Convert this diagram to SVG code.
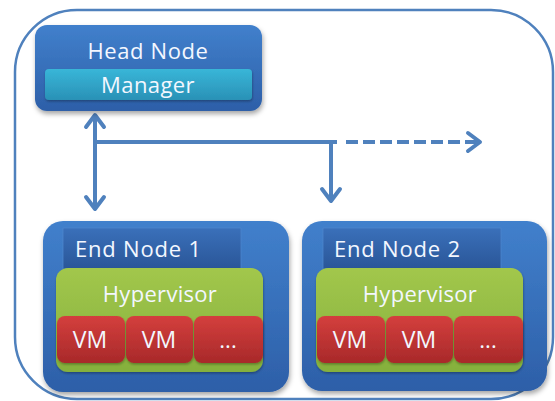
<svg xmlns="http://www.w3.org/2000/svg" width="555" height="401" viewBox="0 0 555 401">
<defs>
<linearGradient id="gBlue" x1="0" y1="0" x2="0" y2="1"><stop offset="0" stop-color="#4180cc"/><stop offset="1" stop-color="#2d5fa8"/></linearGradient>
<linearGradient id="gLabel" x1="0" y1="0" x2="0" y2="1"><stop offset="0" stop-color="#3a70ba"/><stop offset="1" stop-color="#2a5698"/></linearGradient>
<linearGradient id="gCyan" x1="0" y1="0" x2="0" y2="1"><stop offset="0" stop-color="#38b6d8"/><stop offset="1" stop-color="#2a91b6"/></linearGradient>
<linearGradient id="gGreen" x1="0" y1="0" x2="0" y2="1"><stop offset="0" stop-color="#a2c74c"/><stop offset="1" stop-color="#85b03c"/></linearGradient>
<linearGradient id="gRed" x1="0" y1="0" x2="0" y2="1"><stop offset="0" stop-color="#d43f3d"/><stop offset="1" stop-color="#a8292a"/></linearGradient>
<filter id="sh" x="-10%" y="-10%" width="125%" height="130%"><feDropShadow dx="1" dy="3" stdDeviation="2.5" flood-color="#000" flood-opacity="0.35"/></filter>
<filter id="shs" x="-10%" y="-10%" width="125%" height="140%"><feDropShadow dx="0.5" dy="1.5" stdDeviation="1.2" flood-color="#000" flood-opacity="0.3"/></filter>
<marker id="chev" markerUnits="userSpaceOnUse" viewBox="-15 -12 18 24" refX="0" refY="0" markerWidth="18" markerHeight="24" orient="auto-start-reverse">
<path d="M-12,-9 L0,0 L-12,9" fill="none" stroke="#4f81bd" stroke-width="4" stroke-linejoin="round" stroke-linecap="round"/>
</marker>
</defs>
<style>
.outer{fill:none;stroke:#4f81bd;stroke-width:2.5}
.node{fill:url(#gBlue);filter:url(#sh)}
.label{fill:url(#gLabel);stroke:#4d86cc;stroke-width:0.8}
.mgr{fill:url(#gCyan);filter:url(#shs)}
.hyp{fill:url(#gGreen);filter:url(#shs)}
.vm{fill:url(#gRed);filter:url(#shs)}
.t{font-family:"Open Sans","Liberation Sans",sans-serif;font-size:22px;fill:#f3f7ff}
.v{font-size:23px}
.c{text-anchor:middle}
.ln{fill:none;stroke:#4f81bd;stroke-width:4}
.dash{stroke-dasharray:12 5}
</style>
<rect class="outer" x="15" y="10" width="538" height="389" rx="62"/>
<g id="connectors">
<line class="ln" x1="95" y1="115" x2="95" y2="209" marker-start="url(#chev)" marker-end="url(#chev)"/>
<line class="ln" x1="95" y1="142" x2="337" y2="142"/>
<line class="ln" x1="331" y1="142" x2="331" y2="201" marker-end="url(#chev)"/>
<line class="ln dash" x1="346" y1="142" x2="480" y2="142" marker-end="url(#chev)"/>
</g>
<g id="head-node">
<rect class="node" x="35" y="25" width="227" height="86" rx="12"/>
<text class="t c" x="148" y="59" letter-spacing="0.6">Head Node</text>
<rect class="mgr" x="45" y="69" width="207" height="31" rx="4"/>
<text class="t c" x="148" y="93" letter-spacing="0.4">Manager</text>
</g>
<g id="end-node-1">
<rect class="node" x="43" y="221" width="246" height="171" rx="20"/>
<rect class="label" x="63" y="228" width="178" height="41"/>
<text class="t" x="75" y="257" letter-spacing="0.8">End Node 1</text>
<rect class="hyp" x="56" y="268" width="207" height="104" rx="12"/>
<text class="t c" x="160" y="302" letter-spacing="0.3">Hypervisor</text>
<rect class="vm" x="57" y="316" width="68" height="47" rx="8"/>
<text class="t c v" x="90" y="348">VM</text>
<rect class="vm" x="126" y="316" width="67" height="47" rx="8"/>
<text class="t c v" x="159" y="348">VM</text>
<rect class="vm" x="194" y="316" width="69" height="47" rx="8"/>
<text class="t c" x="228" y="348">...</text>
</g>
<g id="end-node-2">
<rect class="node" x="302" y="221" width="245" height="170" rx="20"/>
<rect class="label" x="323" y="228" width="178" height="41"/>
<text class="t" x="334" y="257" letter-spacing="0.8">End Node 2</text>
<rect class="hyp" x="316" y="268" width="207" height="104" rx="12"/>
<text class="t c" x="420" y="302" letter-spacing="0.3">Hypervisor</text>
<rect class="vm" x="317" y="316" width="68" height="47" rx="8"/>
<text class="t c v" x="350" y="348">VM</text>
<rect class="vm" x="386" y="316" width="67" height="47" rx="8"/>
<text class="t c v" x="419" y="348">VM</text>
<rect class="vm" x="454" y="316" width="69" height="47" rx="8"/>
<text class="t c" x="488" y="348">...</text>
</g>
</svg>
